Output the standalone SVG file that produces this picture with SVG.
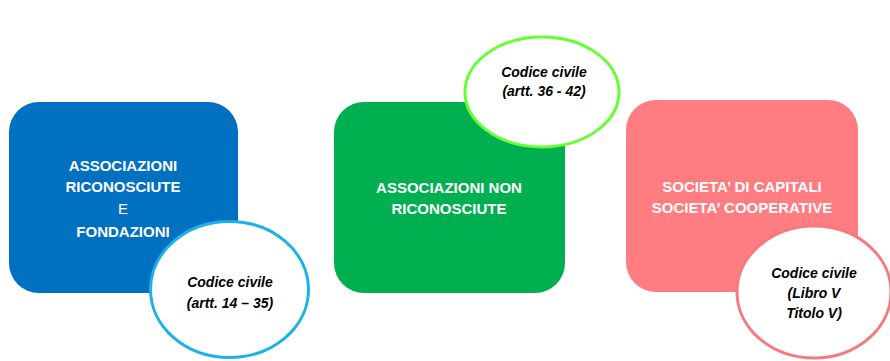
<svg xmlns="http://www.w3.org/2000/svg" width="890" height="361" viewBox="0 0 890 361">
<style>
.box-t{font-family:"Liberation Sans",Arial,sans-serif;font-size:15px;font-weight:bold;fill:#fff;text-anchor:middle}
.box-n{font-family:"Liberation Sans",Arial,sans-serif;font-size:15px;fill:#fff;text-anchor:middle}
.el-t{font-family:"Liberation Sans",Arial,sans-serif;font-size:14px;font-weight:bold;font-style:italic;fill:#000;text-anchor:middle}
.el{fill:#fff;stroke-width:3}
</style>
<rect width="890" height="361" fill="#fff"/>
<g id="node-blue">
<rect x="9" y="102" width="229" height="191" rx="30" fill="#0070c0"/>
<text class="box-t" x="123" y="171">ASSOCIAZIONI</text>
<text class="box-t" x="123" y="192">RICONOSCIUTE</text>
<text class="box-n" x="123" y="214">E</text>
<text class="box-t" x="123" y="237">FONDAZIONI</text>
</g>
<g id="note-blue">
<ellipse class="el" cx="229.5" cy="289.5" rx="79" ry="68" stroke="#1cb0ec"/>
<text class="el-t" x="230" y="287">Codice civile</text>
<text class="el-t" x="230" y="308">(artt. 14 – 35)</text>
</g>
<g id="node-green">
<rect x="334" y="102" width="231" height="191" rx="30" fill="#00b050"/>
<text class="box-t" x="449" y="193">ASSOCIAZIONI NON</text>
<text class="box-t" x="449" y="214">RICONOSCIUTE</text>
</g>
<g id="note-green">
<ellipse class="el" cx="542" cy="92" rx="77" ry="55" stroke="#66ff33" stroke-width="3.5"/>
<text class="el-t" x="544" y="77">Codice civile</text>
<text class="el-t" x="544" y="96">(artt. 36 - 42)</text>
</g>
<g id="node-pink">
<rect x="626" y="100" width="232" height="192" rx="30" fill="#ff7c80"/>
<text class="box-t" x="742" y="192">SOCIETA’ DI CAPITALI</text>
<text class="box-t" x="742" y="213">SOCIETA’ COOPERATIVE</text>
</g>
<g id="note-pink">
<ellipse class="el" cx="814" cy="292" rx="77" ry="66" stroke="#f47a7e"/>
<text class="el-t" x="814" y="278">Codice civile</text>
<text class="el-t" x="814" y="298">(Libro V</text>
<text class="el-t" x="814" y="318">Titolo V)</text>
</g>
<g id="connectors"></g>
</svg>
